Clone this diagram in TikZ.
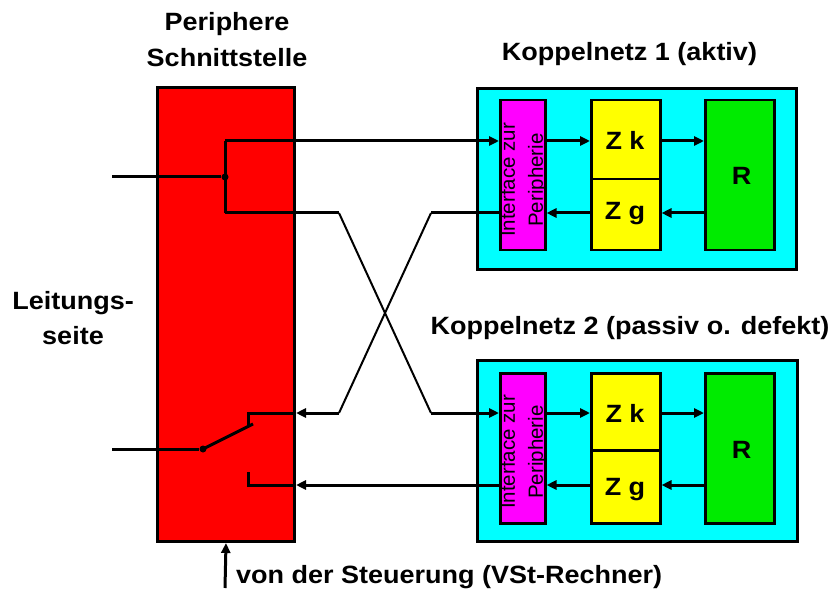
\documentclass[tikz,border=0pt]{standalone}
\usepackage{fontspec}
\setmainfont{Liberation Sans}
\usetikzlibrary{arrows.meta}
\newcommand\hx[1]{\scalebox{1.08}[1]{#1}}
\definecolor{cRed}{RGB}{255,0,0}
\definecolor{cCyan}{RGB}{0,255,255}
\definecolor{cMag}{RGB}{255,0,255}
\definecolor{cYel}{RGB}{255,255,0}
\definecolor{cGrn}{RGB}{0,235,0}
\begin{document}
\begin{tikzpicture}[x=1pt,y=-1pt,
  outerbox/.style={draw=black, line width=3pt, inner sep=0pt, anchor=north west},
  innerbox/.style={draw=black, line width=2.5pt, inner sep=0pt, anchor=north west},
  tl/.style={inner sep=0pt, font=\fontsize{25}{30}\selectfont\bfseries},
  iftext/.style={inner sep=0pt, rotate=90, align=center, font=\fontsize{20.5}{28}\selectfont},
  wire/.style={line width=3pt},
  thin wire/.style={line width=2pt},
  arr/.style={-{Triangle[length=10pt,width=9pt]}},
  dotnode/.style={circle, fill=black, inner sep=0pt, minimum size=7pt}
]
\useasboundingbox (0,0) rectangle (830,596);

% titles
\node[tl, anchor=base] (tp1) at (227,30.5) {\hx{Periphere}};
\node[tl, anchor=base] (tp2) at (227,66.5) {\hx{Schnittstelle}};
\node[tl, anchor=base] (tk1) at (629.5,61) {\hx{Koppelnetz 1 (aktiv)}};
\node[tl, anchor=base] (tk2) at (630,334) {\hx{Koppelnetz 2 (passiv o. defekt)}};
\node[tl, anchor=base] (tl1) at (73,309) {\hx{Leitungs-}};
\node[tl, anchor=base] (tl2) at (73,344) {\hx{seite}};
\node[tl, anchor=base west] (tst) at (236,583) {\hx{von der Steuerung (VSt-Rechner)}};

% peripheral interface
\node[outerbox, fill=cRed, minimum width=137, minimum height=454] (red) at (156,86) {};

% Koppelnetz 1
\node[outerbox, fill=cCyan, minimum width=319, minimum height=181] (kn1) at (476,87) {};
\node[innerbox, fill=cMag, minimum width=45, minimum height=150] (if1) at (499,99) {};
\node[innerbox, fill=cYel, minimum width=69, minimum height=79] (zk1) at (590,99) {};
\node[innerbox, fill=cYel, minimum width=69, minimum height=71] (zg1) at (590,178) {};
\node[innerbox, fill=cGrn, minimum width=69, minimum height=150] (r1) at (704,99) {};
\node[iftext] (ift1) at (523.6,180) {Interface zur\\Peripherie};
\node[tl, anchor=base] (lzk1) at (625,150) {\hx{Z k}};
\node[tl, anchor=base] (lzg1) at (625,220) {\hx{Z g}};
\node[tl, anchor=base] (lr1) at (741.5,185) {\hx{R}};

% Koppelnetz 2
\node[outerbox, fill=cCyan, minimum width=320, minimum height=181] (kn2) at (476,359) {};
\node[innerbox, fill=cMag, minimum width=45, minimum height=150] (if2) at (499,372) {};
\node[innerbox, fill=cYel, minimum width=69, minimum height=77] (zk2) at (590,372) {};
\node[innerbox, fill=cYel, minimum width=69, minimum height=73] (zg2) at (590,449) {};
\node[innerbox, fill=cGrn, minimum width=69, minimum height=150] (r2) at (704,372) {};
\node[iftext] (ift2) at (523.6,452) {Interface zur\\Peripherie};
\node[tl, anchor=base] (lzk2) at (625,422) {\hx{Z k}};
\node[tl, anchor=base] (lzg2) at (625,495) {\hx{Z g}};
\node[tl, anchor=base] (lr2) at (741.5,458) {\hx{R}};

% internal arrows Koppelnetz 1
\draw[wire, arr] (if1.east |- 0,141) -- (zk1.west |- 0,141);
\draw[wire, arr] (zk1.east |- 0,141) -- (r1.west |- 0,141);
\draw[wire, arr] (r1.west |- 0,213) -- (zg1.east |- 0,213);
\draw[wire, arr] (zg1.west |- 0,213) -- (if1.east |- 0,213);
% internal arrows Koppelnetz 2
\draw[wire, arr] (if2.east |- 0,413) -- (zk2.west |- 0,413);
\draw[wire, arr] (zk2.east |- 0,413) -- (r2.west |- 0,413);
\draw[wire, arr] (r2.west |- 0,485) -- (zg2.east |- 0,485);
\draw[wire, arr] (zg2.west |- 0,485) -- (if2.east |- 0,485);

% coordinates
\coordinate (lt) at (112,177);
\coordinate (j1t) at (225,141);
\coordinate (j1b) at (225,213);
\coordinate (x1) at (339,213);
\coordinate (x2) at (431,213);
\coordinate (x3) at (339,413);
\coordinate (x4) at (431,413);
\coordinate (lb) at (112,449);
\coordinate (swe) at (253,424);
\coordinate (c1) at (248,413);
\coordinate (c1e) at (248,427);
\coordinate (c2) at (248,485);
\coordinate (c2e) at (248,472);
\coordinate (ctl) at (225,588);

% upper line (split to both networks)
\node[dotnode] (j1) at (225,177) {};
\node[dotnode] (sw) at (203,449) {};
\draw[wire] (lt) -- (j1);
\draw[wire] (j1t) -- (j1b);
\draw[wire, arr] (j1t) -- (if1.west |- j1t);
\draw[wire] (j1b) -- (x1);
\draw[thin wire] (x1) -- (x4);
\draw[wire, arr] (x4) -- (if2.west |- x4);

% returns from networks
\draw[wire] (if1.west |- x2) -- (x2);
\draw[thin wire] (x2) -- (x3);
\draw[wire, arr] (x3) -- (red.east |- x3);
\draw[wire] (red.east |- x3) -- (c1) -- (c1e);
\draw[wire, arr] (if2.west |- c2) -- (red.east |- c2);
\draw[wire] (red.east |- c2) -- (c2) -- (c2e);

% switch
\draw[wire] (lb) -- (sw);
\draw[wire] (sw.center) -- (swe);

% control arrow
\draw[wire, arr] (ctl) -- (red.south |- 0,543);
\end{tikzpicture}
\end{document}
